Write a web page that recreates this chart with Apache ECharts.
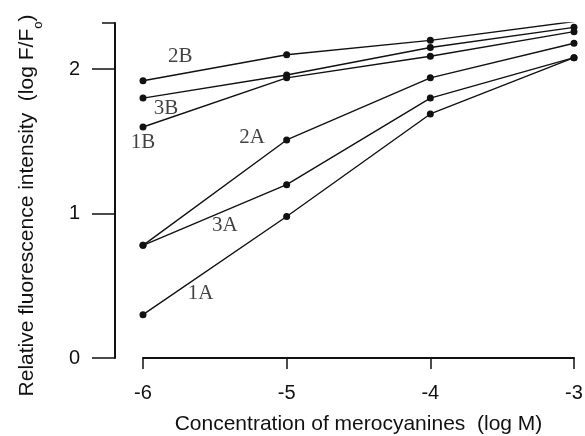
<!DOCTYPE html>
<html><head><meta charset="utf-8">
<script src="https://cdn.jsdelivr.net/npm/echarts@6/dist/echarts.min.js"></script>
<style>html,body{margin:0;padding:0;background:#fff}#c{width:585px;height:436px}</style>
</head><body><div id="c"></div>
<script>
const xValues = [-6, -5, -4, -3];
const s1A = [0.30, 0.98, 1.69, 2.08];
const s2A = [0.78, 1.51, 1.94, 2.18];
const s3A = [0.78, 1.20, 1.80, 2.08];
const s1B = [1.60, 1.94, 2.09, 2.26];
const s2B = [1.92, 2.10, 2.20, 2.33];
const s3B = [1.80, 1.96, 2.15, 2.29];
const seriesNames = ['1A', '2A', '3A', '1B', '2B', '3B'];
const seriesData = [s1A, s2A, s3A, s1B, s2B, s3B];
const labelNames = ['2B', '3B', '1B', '2A', '3A', '1A'];
const labelX = [-5.74, -5.84, -6.0, -5.24, -5.43, -5.60];
const labelY = [2.09, 1.73, 1.49, 1.53, 0.92, 0.45];
const yTickValues = [0, 1, 2];

const chart = echarts.init(document.getElementById('c'), null, {renderer: 'canvas'});
const sans = 'Liberation Sans, Arial, sans-serif';
const lineSeries = seriesNames.map((n, i) => ({
  name: n, type: 'line', xAxisIndex: 0, yAxisIndex: 0,
  data: xValues.map((x, j) => [x, seriesData[i][j]]),
  symbol: 'circle', symbolSize: 7,
  lineStyle: {color: '#111', width: 1.4},
  itemStyle: {color: '#111'},
  silent: true, animation: false
}));
const labelSeries = {
  type: 'scatter', xAxisIndex: 0, yAxisIndex: 0,
  data: labelNames.map((n, i) => ({name: n, value: [labelX[i], labelY[i]]})),
  symbolSize: 0,
  label: {show: true, position: 'inside', formatter: p => p.name,
    fontFamily: 'Liberation Serif, Times New Roman, serif', fontSize: 21, color: '#111'},
  animation: false, silent: true
};
chart.setOption({
  backgroundColor: '#fff',
  animation: false,
  grid: {left: 143, right: 11, top: 23, bottom: 78, outerBoundsMode: 'none', containLabel: false},
  xAxis: {
    type: 'value', min: -6, max: -3, interval: 1,
    name: 'Concentration of merocyanines  (log M)',
    nameLocation: 'middle', nameGap: 56,
    nameTextStyle: {fontFamily: sans, fontSize: 21, color: '#111'},
    axisLine: {show: true, onZero: false, lineStyle: {color: '#111', width: 2}},
    axisTick: {show: true, inside: false, length: 11, lineStyle: {color: '#111', width: 1.5}},
    axisLabel: {fontFamily: sans, fontSize: 20, color: '#111', margin: 25},
    splitLine: {show: false}
  },
  yAxis: [{
    type: 'value', min: 0, max: 2.32,
    offset: 28,
    name: 'Relative fluorescence intensity  (log F/F{s|o})',
    nameLocation: 'middle', nameGap: 77, nameRotate: 90,
    nameTextStyle: {fontFamily: sans, fontSize: 21, color: '#111', padding: [0, 30, 0, 0],
      rich: {s: {fontFamily: sans, fontSize: 13, color: '#111', verticalAlign: 'bottom', padding: [0,0,-7,0]}}},
    axisLine: {show: true, onZero: false, lineStyle: {color: '#111', width: 2}},
    axisTick: {show: true, length: 23, customValues: yTickValues, lineStyle: {color: '#111', width: 1.5}},
    axisLabel: {fontFamily: sans, fontSize: 20, color: '#111', margin: 35, customValues: yTickValues},
    splitLine: {show: false}
  }, {
    type: 'value', min: 0, max: 2.32, offset: 28, position: 'left',
    axisLine: {show: false},
    axisTick: {show: true, length: 13, customValues: [2.32], lineStyle: {color: '#111', width: 1.5}},
    axisLabel: {show: false},
    splitLine: {show: false}
  }],
  series: [...lineSeries, labelSeries]
});
</script></body></html>
